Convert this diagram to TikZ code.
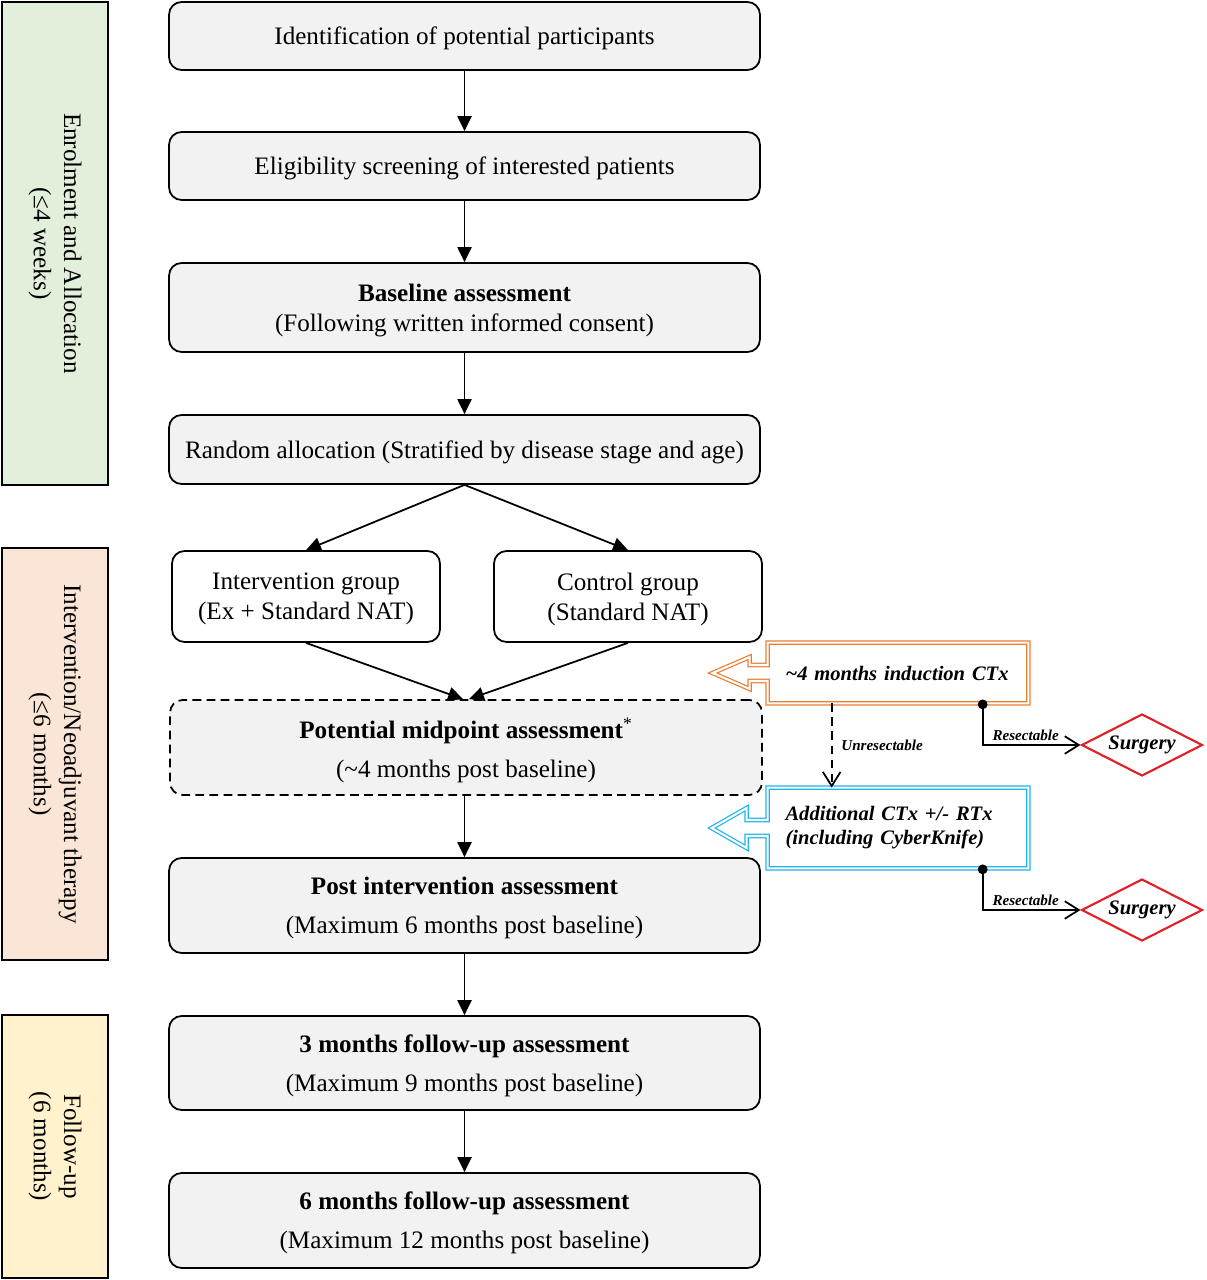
\documentclass[tikz,border=0pt]{standalone}
\usepackage{fontspec}
\setmainfont{Liberation Serif}
\usetikzlibrary{arrows.meta,shapes.geometric,calc}
\definecolor{boxgray}{HTML}{F2F2F2}
\definecolor{phgreen}{HTML}{E2EFDA}
\definecolor{phorange}{HTML}{FBE5D6}
\definecolor{phyellow}{HTML}{FFF2CC}
\definecolor{ctxorange}{HTML}{ED7D31}
\definecolor{ctxblue}{HTML}{1FB4EC}
\definecolor{surgred}{HTML}{E41E25}
\newcommand\mainfs{\fontsize{14.3}{17.2}\selectfont}
\newcommand\smallfs{\fontsize{11.7}{13.6}\selectfont}
\newcommand\tinyfs{\fontsize{8.6}{10}\selectfont}
\begin{document}
\begin{tikzpicture}[x=0.02cm,y=-0.02cm,
  phase/.style={draw=black, line width=1pt, rotate=-90, align=center, inner sep=0pt,
    minimum height=2.12cm, font=\mainfs},
  mainbox/.style={draw=black, line width=1pt, rounded corners=0.25cm, fill=boxgray,
    minimum width=11.82cm, align=center, inner sep=0pt, text depth=0pt, font=\mainfs},
  groupbox/.style={mainbox, fill=white, minimum width=5.36cm, minimum height=1.82cm},
  arr/.style={line width=1pt, -{Triangle[length=8.5pt,width=8pt]}},
  ctxtext/.style={minimum width=5.2cm, text width=4.5cm, inner xsep=0.35cm, align=left,
    font=\smallfs\bfseries\itshape},
  ctxframe/.style={line width=0.7pt, double=white, double distance=1.2pt},
  surg/.style={diamond, draw=surgred, fill=white, line width=1.2pt, aspect=2,
    minimum width=2.42cm, minimum height=1.24cm, inner sep=0pt, font=\smallfs\bfseries\itshape},
  conn/.style={line width=1pt, -{Straight Barb[length=8pt,width=10pt]}},
  lbl/.style={font=\tinyfs\bfseries\itshape, inner sep=2pt}
]
\useasboundingbox (0,0) rectangle (1206,1280);

% phase boxes
\node[phase, fill=phgreen, minimum width=9.66cm] (ph1) at (55,243.5)
  {Enrolment and Allocation\\(≤4 weeks)};
\node[phase, fill=phorange, minimum width=8.24cm] (ph2) at (55,754)
  {Intervention/Neoadjuvant therapy\\(≤6 months)};
\node[phase, fill=phyellow, minimum width=5.26cm] (ph3) at (55,1146.5)
  {Follow-up\\(6 months)};

% main flow
\node[mainbox, minimum height=1.36cm] (n1) at (464.5,36) {Identification of potential participants};
\node[mainbox, minimum height=1.36cm] (n2) at (464.5,166) {Eligibility screening of interested patients};
\node[mainbox, minimum height=1.78cm] (n3) at (464.5,307.5) {\textbf{Baseline assessment}\\(Following written informed consent)};
\node[mainbox, minimum height=1.38cm] (n4) at (464.5,449.5) {Random allocation (Stratified by disease stage and age)};
\node[groupbox] (int) at (306,596.5) {Intervention group\\(Ex + Standard NAT)};
\node[groupbox] (ctl) at (628,596.5) {Control group\\(Standard NAT)};
\node[mainbox, minimum width=11.84cm, minimum height=1.9cm, dash pattern=on 5pt off 3pt] (mid) at (466,747.5)
  {\textbf{Potential midpoint assessment}\textsuperscript{*}\\[5pt](\textasciitilde 4 months post baseline)};
\node[mainbox, minimum height=1.9cm] (post) at (464.5,905.5) {\textbf{Post intervention assessment}\\[5pt](Maximum 6 months post baseline)};
\node[mainbox, minimum height=1.88cm] (f3) at (464.5,1063) {\textbf{3 months follow-up assessment}\\[5pt](Maximum 9 months post baseline)};
\node[mainbox, minimum height=1.9cm] (f6) at (464.5,1220.5) {\textbf{6 months follow-up assessment}\\[5pt](Maximum 12 months post baseline)};

\draw[arr] (n1) -- (n2);
\draw[arr] (n2) -- (n3);
\draw[arr] (n3) -- (n4);
\draw[arr] (n4.south) -- (int.north);
\draw[arr] (n4.south) -- (ctl.north);
\draw[arr] (int.south) -- ([xshift=-0.06cm]mid.north);
\draw[arr] (ctl.south) -- ([xshift=0.06cm]mid.north);
\draw[arr] (mid.south -| post.north) -- (post.north);
\draw[arr] (post) -- (f3);
\draw[arr] (f3) -- (f6);

% chemotherapy boxes
\node[ctxtext, minimum height=1.2cm] (ind) at (898,673) {\textasciitilde 4 months induction CTx};
\node[ctxtext, minimum height=1.6cm] (add) at (898,828) {Additional CTx +/- RTx\\(including CyberKnife)};

\draw[ctxframe, draw=ctxorange] (ind.north east) -- (ind.north west) -- ($(ind.west)+(0,-8)$)
  -- ($(ind.west)+(-18,-8)$) -- ($(ind.west)+(-18,-16)$) -- ($(ind.west)+(-55,0)$)
  -- ($(ind.west)+(-18,16)$) -- ($(ind.west)+(-18,8)$) -- ($(ind.west)+(0,8)$)
  -- (ind.south west) -- (ind.south east) -- cycle;
\draw[ctxframe, draw=ctxblue] (add.north east) -- (add.north west) -- ($(add.west)+(0,-8)$)
  -- ($(add.west)+(-21,-8)$) -- ($(add.west)+(-21,-20)$) -- ($(add.west)+(-56,0)$)
  -- ($(add.west)+(-21,20)$) -- ($(add.west)+(-21,8)$) -- ($(add.west)+(0,8)$)
  -- (add.south west) -- (add.south east) -- cycle;

\node[surg] (s1) at (1142,745) {Surgery};
\node[surg] (s2) at (1142,910) {Surgery};

\coordinate (u1) at ($(ind.south west)+(64,0)$);
\draw[conn, dash pattern=on 5pt off 3pt] (u1) -- (u1 |- add.north)
  node[lbl, midway, right, xshift=3pt] {Unresectable};

\coordinate (r1) at ($(ind.south west)+(215,1)$);
\coordinate (r2) at ($(add.south west)+(215,1)$);
\fill (r1) circle (2.8pt);
\fill (r2) circle (2.8pt);
\draw[conn] (r1) |- node[lbl, pos=0.72, above] {Resectable} (s1.west);
\draw[conn] (r2) |- node[lbl, pos=0.72, above] {Resectable} (s2.west);
\end{tikzpicture}
\end{document}
